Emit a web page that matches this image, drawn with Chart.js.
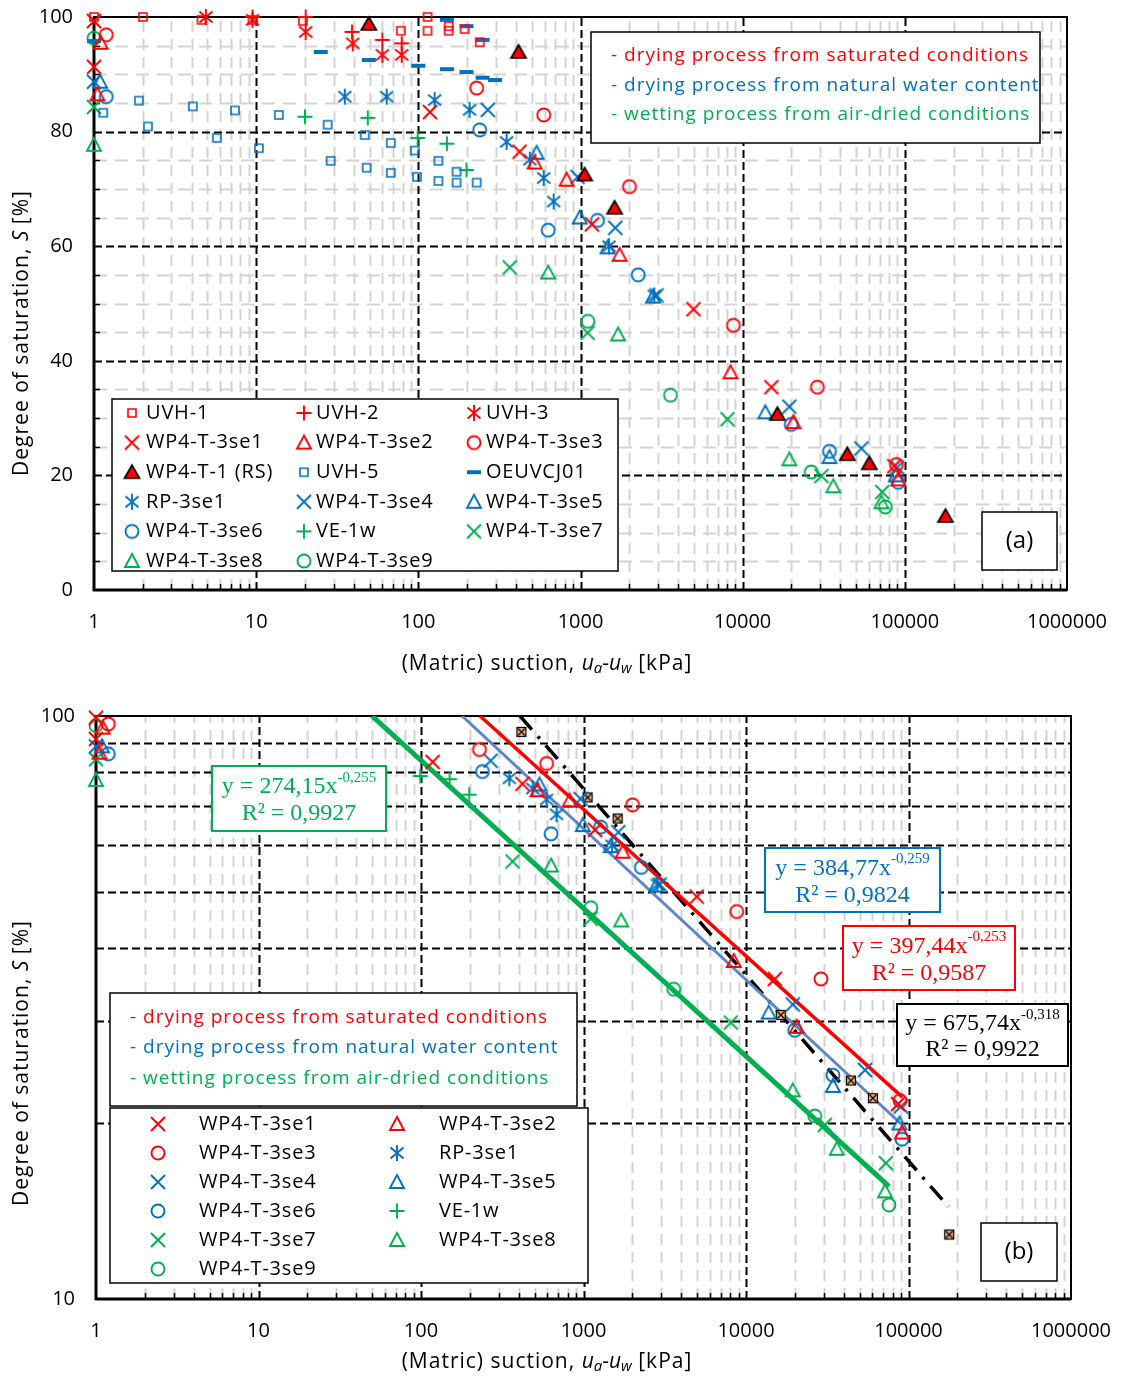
<!DOCTYPE html>
<html>
<head>
<meta charset="utf-8">
<title>Degree of saturation vs matric suction</title>
<script src="https://cdn.jsdelivr.net/npm/chart.js@4.4.1/dist/chart.umd.min.js"></script>
<style>
  body { margin: 0; background: #fff; }
  canvas { position: absolute; left: 0; }
  #chartA { top: 0; }
  #chartB { top: 690px; }
</style>
</head>
<body>
<canvas id="chartA" width="1122" height="690"></canvas>
<canvas id="chartB" width="1122" height="688"></canvas>
<script>
const RED = '#ff0000', BLUE = '#0070c0', GREEN = '#00b050', FITBLUE = '#5b87c8';
const SANS = '"Open Sans", sans-serif';
const SERIF = '"Liberation Serif", "Times New Roman", serif';

const xTicks = [1, 10, 100, 1000, 10000, 100000, 1000000];
const yTicksA = [0, 20, 40, 60, 80, 100];
const yTicksB = [10, 100];

// [suction kPa, degree of saturation %]
const uvh1 = [[1, 100], [2, 100], [4.6, 99.5], [9.5, 99.5], [19.4, 99.3], [78, 97.6], [114, 100], [114, 97.6], [154, 98.4], [154, 97.6], [193, 97.9], [239, 95.6]];
const uvh2 = [[9.5, 100], [20.2, 100], [39, 97.4], [60, 96], [79, 95.4]];
const uvh3 = [[4.9, 100], [9.5, 99.5], [20.2, 97.4], [39.4, 95.4], [60, 93.4], [79, 93.4]];
const wp3se1 = [[1, 99.3], [1, 91.3], [118, 83.4], [421, 76.5], [1176, 63.8], [4977, 49], [15040, 35.4], [86100, 21.6]];
const wp3se2 = [[1.1, 95.5], [1.05, 86.5], [521, 74.6], [821, 71.6], [1742, 58.5], [8410, 38], [20560, 29.3], [91200, 19.3]];
const wp3se3 = [[1.19, 96.9], [229, 87.6], [593, 82.9], [2005, 70.4], [8770, 46.2], [28900, 35.4], [88700, 21.9]];
const rs = [[49.5, 98.8], [415, 93.9], [1060, 72.5], [1622, 66.7], [16370, 30.7], [44200, 23.7], [60400, 22.1], [178000, 12.9]];
const uvh5 = [[1.14, 83.3], [1.89, 85.4], [2.15, 80.9], [4.07, 84.4], [5.72, 78.9], [7.4, 83.7], [10.4, 77.1], [13.8, 82.9], [27.6, 81.2], [28.8, 74.9], [46.7, 79.4], [48, 73.7], [67.6, 78], [67.6, 72.8], [95, 76.7], [98, 72.1], [133, 74.9], [133, 71.4], [172, 73], [172, 71.1], [229, 71.1]];
const oeuvcj01 = [[1, 95.8], [25, 93.9], [49.5, 92.5], [100, 91.5], [150, 90.9], [198, 90.4], [249, 89.4], [297, 89], [150, 99.5], [198, 98.4], [249, 96]];
const rp3se1 = [[35.2, 86.1], [63.8, 86.1], [126, 85.5], [207, 83.8], [350, 78.2], [487, 75.1], [593, 71.9], [683, 67.8], [1500, 60], [2850, 51.4]];
const wp3se4 = [[1, 88.7], [268, 83.8], [959, 72.1], [1638, 63.2], [2944, 51.4], [19400, 32], [54000, 24.7], [89900, 21.4]];
const wp3se5 = [[1.09, 88.7], [536, 76.3], [990, 65], [1468, 59.8], [2800, 51.2], [13800, 31], [34300, 23.2], [88000, 20]];
const wp3se6 = [[1.19, 86.1], [239, 80.3], [632, 62.8], [1274, 64.5], [2270, 55], [19950, 28.9], [34300, 24.2], [91200, 18.8]];
const ve1w = [[20, 82.6], [48.8, 82.4], [99, 78.9], [150, 77.9], [198, 73.3]];
const wp3se7 = [[1, 84.3], [366, 56.3], [1106, 44.9], [8060, 29.8], [30600, 19.9], [72600, 17.1]];
const wp3se8 = [[1, 77.7], [632, 55.4], [1706, 44.6], [19400, 22.8], [36200, 18.1], [71700, 15.3]];
const wp3se9 = [[1, 96.3], [1110, 46.9], [3590, 34], [26500, 20.6], [75800, 14.5]];

// power-law fits in (b), end points
const fitRed = [[231, 100], [91600, 22.2]];
const fitBlue = [[179, 100], [91200, 19.9]];
const fitGreen = [[50, 100], [75900, 15.6]];
const fitBlack = [[407, 100], [176000, 14.4]];

function marker(kind, color) {
  const c = document.createElement('canvas');
  c.width = c.height = 20;
  const g = c.getContext('2d'), m = 10;
  g.strokeStyle = color;
  g.fillStyle = color;
  g.lineWidth = 1.9;
  g.beginPath();
  if (kind === 'x') {
    g.moveTo(m - 7, m - 7); g.lineTo(m + 7, m + 7);
    g.moveTo(m + 7, m - 7); g.lineTo(m - 7, m + 7);
    g.stroke();
  } else if (kind === 'plus') {
    g.moveTo(m - 7.5, m); g.lineTo(m + 7.5, m);
    g.moveTo(m, m - 7.5); g.lineTo(m, m + 7.5);
    g.stroke();
  } else if (kind === 'star') {
    g.moveTo(m - 6.5, m - 5.5); g.lineTo(m + 6.5, m + 5.5);
    g.moveTo(m + 6.5, m - 5.5); g.lineTo(m - 6.5, m + 5.5);
    g.moveTo(m, m - 8); g.lineTo(m, m + 8);
    g.stroke();
  } else if (kind === 'circle') {
    g.arc(m, m, 6.5, 0, Math.PI * 2);
    g.stroke();
  } else if (kind === 'tri') {
    g.moveTo(m, m - 7); g.lineTo(m + 7, m + 6); g.lineTo(m - 7, m + 6);
    g.closePath();
    g.stroke();
  } else if (kind === 'square') {
    g.lineWidth = 1.6;
    g.rect(m - 4, m - 4, 8, 8);
    g.stroke();
  } else if (kind === 'dash') {
    g.fillRect(m - 7, m - 2, 14, 4);
  } else if (kind === 'rs') {
    g.moveTo(m, m - 7); g.lineTo(m + 7.5, m + 6); g.lineTo(m - 7.5, m + 6);
    g.closePath();
    g.fill();
    g.strokeStyle = '#000';
    g.lineWidth = 1.7;
    g.stroke();
  } else if (kind === 'rsBox') {
    g.fillStyle = '#f4b183';
    g.fillRect(m - 4.5, m - 4.5, 9, 9);
    g.strokeStyle = '#000';
    g.lineWidth = 1.2;
    g.strokeRect(m - 4.5, m - 4.5, 9, 9);
    g.moveTo(m - 3.5, m - 3.5); g.lineTo(m + 3.5, m + 3.5);
    g.moveTo(m + 3.5, m - 3.5); g.lineTo(m - 3.5, m + 3.5);
    g.stroke();
  }
  return c;
}

const mk = {
  sqRed: marker('square', RED), plusRed: marker('plus', RED), starRed: marker('star', RED),
  xRed: marker('x', RED), triRed: marker('tri', RED), cirRed: marker('circle', RED),
  rs: marker('rs', RED), sqBlue: marker('square', BLUE), dash: marker('dash', BLUE),
  starBlue: marker('star', BLUE), xBlue: marker('x', BLUE), triBlue: marker('tri', BLUE),
  cirBlue: marker('circle', BLUE), plusGreen: marker('plus', GREEN), xGreen: marker('x', GREEN),
  triGreen: marker('tri', GREEN), cirGreen: marker('circle', GREEN), rsBox: marker('rsBox', '#000')
};

const seriesA = [
  ['UVH-1', uvh1, mk.sqRed], ['UVH-2', uvh2, mk.plusRed], ['UVH-3', uvh3, mk.starRed],
  ['WP4-T-3se1', wp3se1, mk.xRed], ['WP4-T-3se2', wp3se2, mk.triRed], ['WP4-T-3se3', wp3se3, mk.cirRed],
  ['WP4-T-1 (RS)', rs, mk.rs], ['UVH-5', uvh5, mk.sqBlue], ['OEUVCJ01', oeuvcj01, mk.dash],
  ['RP-3se1', rp3se1, mk.starBlue], ['WP4-T-3se4', wp3se4, mk.xBlue], ['WP4-T-3se5', wp3se5, mk.triBlue],
  ['WP4-T-3se6', wp3se6, mk.cirBlue], ['VE-1w', ve1w, mk.plusGreen], ['WP4-T-3se7', wp3se7, mk.xGreen],
  ['WP4-T-3se8', wp3se8, mk.triGreen], ['WP4-T-3se9', wp3se9, mk.cirGreen]
];

const seriesB = [
  ['WP4-T-3se1', wp3se1, mk.xRed], ['WP4-T-3se2', wp3se2, mk.triRed],
  ['WP4-T-3se3', wp3se3, mk.cirRed], ['RP-3se1', rp3se1.filter(p => p[0] >= 350), mk.starBlue],
  ['WP4-T-3se4', wp3se4, mk.xBlue], ['WP4-T-3se5', wp3se5, mk.triBlue],
  ['WP4-T-3se6', wp3se6, mk.cirBlue], ['VE-1w', ve1w.filter(p => p[0] >= 99), mk.plusGreen],
  ['WP4-T-3se7', wp3se7, mk.xGreen], ['WP4-T-3se8', wp3se8, mk.triGreen],
  ['WP4-T-3se9', wp3se9, mk.cirGreen]
];

const pts = arr => arr.map(([x, y]) => ({ x, y }));

function markerSet([label, arr, img]) {
  return { label, data: pts(arr), pointStyle: img, pointRadius: 7, showLine: false, clip: false };
}

function fitLine(arr, color, width, dash) {
  return {
    label: 'fit', data: pts(arr), showLine: true, borderColor: color, borderWidth: width,
    borderDash: dash || [], pointRadius: 0, order: 10, tension: 0
  };
}

function drawRuns(ctx, parts, cx, cy) {
  let w = 0;
  parts.forEach(p => { ctx.font = p.f; ctx.letterSpacing = p.ls || '0px'; w += ctx.measureText(p.t).width; });
  let x = cx - w / 2;
  ctx.textAlign = 'left';
  ctx.textBaseline = 'middle';
  parts.forEach(p => {
    ctx.font = p.f;
    ctx.letterSpacing = p.ls || '0px';
    ctx.fillStyle = p.c || '#000';
    ctx.fillText(p.t, x, cy + (p.dy || 0));
    x += ctx.measureText(p.t).width;
  });
  ctx.letterSpacing = '0px';
}

const xTitle = [
  { t: '(Matric) suction, ', f: `21px ${SANS}`, ls: '1px' },
  { t: 'u', f: `italic 21px ${SANS}` }, { t: 'a', f: `italic 15px ${SANS}`, dy: 5 },
  { t: '-', f: `21px ${SANS}` },
  { t: 'u', f: `italic 21px ${SANS}` }, { t: 'w', f: `italic 15px ${SANS}`, dy: 5 },
  { t: ' [kPa]', f: `21px ${SANS}`, ls: '1px' }
];
const yTitle = [
  { t: 'Degree of saturation, ', f: `21px ${SANS}`, ls: '1px' },
  { t: 'S', f: `italic 21px ${SANS}` },
  { t: ' [%]', f: `21px ${SANS}`, ls: '1px' }
];
const processLines = [
  ['- drying process from saturated conditions', RED],
  ['- drying process from natural water content', BLUE],
  ['- wetting process from air-dried conditions', GREEN]
];

function box(ctx, l, t, r, b, color, lw) {
  ctx.setLineDash([]);
  ctx.fillStyle = '#fff';
  ctx.fillRect(l, t, r - l, b - t);
  ctx.strokeStyle = color;
  ctx.lineWidth = lw;
  ctx.strokeRect(l, t, r - l, b - t);
}

function drawGrid(chart, g) {
  const { ctx, chartArea: a, scales: { x, y } } = chart;
  ctx.save();
  const line = (x1, y1, x2, y2, color, w, dash) => {
    ctx.strokeStyle = color; ctx.lineWidth = w; ctx.setLineDash(dash);
    ctx.beginPath(); ctx.moveTo(x1, y1); ctx.lineTo(x2, y2); ctx.stroke();
  };
  const minorX = [];
  xTicks.slice(0, -1).forEach(d => { for (let k = 2; k <= 9; k++) minorX.push(d * k); });
  minorX.forEach(v => {
    const px = Math.round(x.getPixelForValue(v)) + 0.5;
    line(px, a.bottom, px, a.top, '#d3d3d3', 2, [11, 7]);
  });
  g.yMinor.forEach(v => {
    const py = Math.round(y.getPixelForValue(v)) + 0.5;
    line(a.left, py, a.right, py, '#d3d3d3', 2, [13, 8]);
  });
  xTicks.slice(1, -1).forEach(v => {
    const px = Math.round(x.getPixelForValue(v)) + 0.5;
    line(px, a.bottom, px, a.top, '#000', 2, [8, 4]);
  });
  g.yMajor.forEach(v => {
    const py = Math.round(y.getPixelForValue(v)) + 0.5;
    line(a.left, py, a.right, py, '#000', 2, [8, 4]);
  });
  minorX.forEach(v => {
    const px = Math.round(x.getPixelForValue(v)) + 0.5;
    line(px, a.bottom, px, a.bottom - 6, '#000', 1.5, []);
  });
  g.yMinor.forEach(v => {
    const py = Math.round(y.getPixelForValue(v)) + 0.5;
    line(a.left, py, a.left + 6, py, '#000', 1.5, []);
  });
  ctx.setLineDash([]);
  ctx.strokeStyle = '#000';
  ctx.lineWidth = 2;
  ctx.strokeRect(a.left, a.top, a.right - a.left, a.bottom - a.top);
  line(a.left, a.top, a.left, a.bottom + 1, '#000', 3, []);
  line(a.left - 1, a.bottom, a.right, a.bottom, '#000', 3, []);
  ctx.restore();
}

function decor(g) {
  return {
    id: 'decor' + g.name,
    beforeDatasetsDraw(chart) { drawGrid(chart, g); },
    afterDatasetsDraw(chart) { g.boxes(chart.ctx); },
    afterDraw(chart) {
      const ctx = chart.ctx;
      ctx.save();
      drawRuns(ctx, xTitle, 547, g.xTitleY);
      ctx.translate(22, g.yTitleY);
      ctx.rotate(-Math.PI / 2);
      drawRuns(ctx, yTitle, 0, 0);
      ctx.restore();
    }
  };
}

function drawLegend(ctx, series, cols, rowY, step, markX, textX) {
  ctx.font = `20px ${SANS}`;
  ctx.letterSpacing = '0.8px';
  ctx.textAlign = 'left';
  ctx.textBaseline = 'middle';
  series.forEach(([label, , img], i) => {
    const c = i % cols, r = Math.floor(i / cols), y = rowY + r * step;
    ctx.drawImage(img, markX[c] - img.width / 2, y - img.height / 2);
    ctx.fillStyle = '#000';
    ctx.fillText(label, textX[c], y);
  });
  ctx.letterSpacing = '0px';
}

function drawProcess(ctx, x, ys) {
  ctx.font = `19px ${SANS}`;
  ctx.letterSpacing = '1px';
  ctx.textAlign = 'left';
  ctx.textBaseline = 'middle';
  processLines.forEach(([t, c], i) => { ctx.fillStyle = c; ctx.fillText(t, x, ys[i]); });
  ctx.letterSpacing = '0px';
}

function panelTag(ctx, l, t, r, b, text) {
  box(ctx, l, t, r, b, '#000', 1.5);
  ctx.font = `24px ${SANS}`;
  ctx.fillStyle = '#000';
  ctx.textAlign = 'center';
  ctx.textBaseline = 'middle';
  ctx.fillText(text, (l + r) / 2, (t + b) / 2);
}

function eqBox(ctx, [l, t, r, b], color, coef, expo, r2) {
  box(ctx, l, t, r, b, color, 2);
  const cx = (l + r) / 2, h = b - t;
  drawRuns(ctx, [
    { t: 'y = ' + coef + 'x', f: `24px ${SERIF}`, c: color },
    { t: expo, f: `15px ${SERIF}`, c: color, dy: -9 }
  ], cx, t + h * 0.32);
  drawRuns(ctx, [{ t: 'R² = ' + r2, f: `24px ${SERIF}`, c: color }], cx, t + h * 0.74);
}

function commonScales(yCfg, xHeight, yWidth) {
  return {
    x: {
      type: 'logarithmic', min: 1, max: 1000000,
      afterBuildTicks: s => { s.ticks = xTicks.map(v => ({ value: v })); },
      afterFit: s => { s.height = xHeight; s.paddingLeft = 0; s.paddingRight = 0; },
      ticks: {
        autoSkip: false, maxRotation: 0, padding: 20, color: '#000',
        font: { family: '"Open Sans"', size: 20 }, callback: v => String(v)
      },
      grid: { display: false, drawTicks: false }, border: { display: false }
    },
    y: Object.assign({
      afterFit: s => { s.width = yWidth; s.paddingTop = 0; s.paddingBottom = 0; },
      grid: { display: false, drawTicks: false }, border: { display: false }
    }, yCfg)
  };
}

const minorA = [], majorA = [20, 40, 60, 80];
for (let v = 5; v < 100; v += 5) if (v % 20) minorA.push(v);

new Chart(document.getElementById('chartA'), {
  type: 'scatter',
  data: { datasets: seriesA.map(markerSet) },
  options: {
    responsive: false, animation: false, events: [],
    layout: { padding: { top: 17, right: 55, left: 0, bottom: 0 } },
    plugins: { legend: { display: false }, tooltip: { enabled: false } },
    scales: commonScales({
      type: 'linear', min: 0, max: 100,
      afterBuildTicks: s => { s.ticks = yTicksA.map(v => ({ value: v })); },
      ticks: { padding: 21, color: '#000', font: { family: '"Open Sans"', size: 20 } }
    }, 100, 94)
  },
  plugins: [decor({
    name: 'A', yMinor: minorA, yMajor: majorA, xTitleY: 664, yTitleY: 333,
    boxes(ctx) {
      ctx.save();
      box(ctx, 591, 32, 1040, 143, '#000', 1.5);
      drawProcess(ctx, 611, [56, 86, 115]);
      box(ctx, 112, 399, 618, 571, '#000', 1.5);
      drawLegend(ctx, seriesA, 3, 413, 29.6, [132, 304, 474], [146, 316, 486]);
      panelTag(ctx, 982, 512, 1057, 570, '(a)');
      ctx.restore();
    }
  })]
});

const majorB = [20, 30, 40, 50, 60, 70, 80, 90];

new Chart(document.getElementById('chartB'), {
  type: 'scatter',
  data: {
    datasets: seriesB.map(markerSet).concat([
      { label: 'WP4-T-1 (RS)', data: pts(rs.filter(p => p[0] >= 400)), pointStyle: mk.rsBox, pointRadius: 5, showLine: false, clip: false },
      fitLine(fitGreen, GREEN, 5),
      fitLine(fitRed, RED, 3.5),
      fitLine(fitBlue, FITBLUE, 3),
      fitLine(fitBlack, '#000', 3.5, [18, 9, 3, 9])
    ])
  },
  options: {
    responsive: false, animation: false, events: [],
    layout: { padding: { top: 26, right: 51, left: 0, bottom: 0 } },
    plugins: { legend: { display: false }, tooltip: { enabled: false } },
    scales: commonScales({
      type: 'logarithmic', min: 10, max: 100,
      afterBuildTicks: s => { s.ticks = yTicksB.map(v => ({ value: v })); },
      ticks: { padding: 21, color: '#000', font: { family: '"Open Sans"', size: 20 }, callback: v => String(v) }
    }, 79, 96)
  },
  plugins: [decor({
    name: 'B', yMinor: [], yMajor: majorB, xTitleY: 672, yTitleY: 373,
    boxes(ctx) {
      ctx.save();
      eqBox(ctx, [212, 76, 386, 141], GREEN, '274,15', '-0,255', '0,9927');
      eqBox(ctx, [765, 158, 940, 222], BLUE, '384,77', '-0,259', '0,9824');
      eqBox(ctx, [843, 236, 1015, 300], RED, '397,44', '-0,253', '0,9587');
      eqBox(ctx, [897, 314, 1068, 376], '#000', '675,74', '-0,318', '0,9922');
      box(ctx, 110, 303, 577, 416, '#000', 1.5);
      drawProcess(ctx, 130, [328, 358, 389]);
      box(ctx, 110, 418, 588, 593, '#000', 1.5);
      drawLegend(ctx, seriesB, 2, 434, 29, [158, 397], [199, 439]);
      panelTag(ctx, 981, 533, 1057, 591, '(b)');
      ctx.restore();
    }
  })]
});
</script>
</body>
</html>
